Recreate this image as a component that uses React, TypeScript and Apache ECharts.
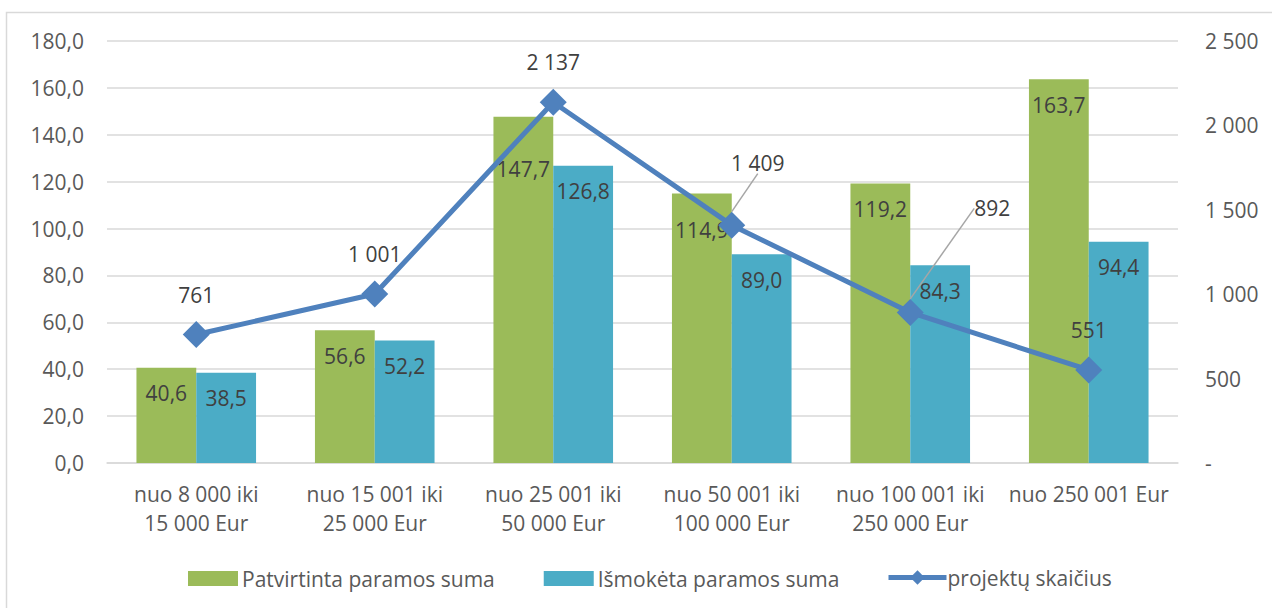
import React, { useEffect, useRef } from "react";
import * as echarts from "echarts";

const categories = [
  "nuo 8 000 iki\n15 000 Eur",
  "nuo 15 001 iki\n25 000 Eur",
  "nuo 25 001 iki\n50 000 Eur",
  "nuo 50 001 iki\n100 000 Eur",
  "nuo 100 001 iki\n250 000 Eur",
  "nuo 250 001 Eur",
];
const approved = [40.6, 56.6, 147.7, 114.9, 119.2, 163.7];
const paid = [38.5, 52.2, 126.8, 89.0, 84.3, 94.4];
const projects = [761, 1001, 2137, 1409, 892, 551];
const seriesNames = ["Patvirtinta paramos suma", "Išmokėta paramos suma", "projektų skaičius"];

const FONT = "'Open Sans', sans-serif";
const FS = 21;
const AXIS_COLOR = "#595959";
const LABEL_COLOR = "#404040";
const GREEN = "#9BBB59";
const BLUE = "#4BACC6";
const LINE = "#4F81BD";

const fmtComma = (v: number) => v.toFixed(1).replace(".", ",");
const fmtSpace = (v: number) =>
  v === 0 ? "-" : String(Math.round(v)).replace(/\B(?=(\d{3})+(?!\d))/g, " ");

export default function App() {
  const ref = useRef<HTMLDivElement>(null);
  useEffect(() => {
    if (!ref.current) return;
    const chart = echarts.init(ref.current, undefined, { renderer: "svg" });
    const approvedDistance: Record<number, number> = { 2: 42, 3: 26 };
    const lineLabelMoves: Record<number, [number, number]> = { 3: [26, -22], 4: [82, -64] };
    chart.setOption({
      animation: false,
      textStyle: { fontFamily: FONT },
      graphic: [
        {
          type: "rect",
          shape: { x: 6.5, y: 12.5, width: 1300, height: 700 },
          style: { fill: "none", stroke: "#d9d9d9", lineWidth: 1.5 },
          silent: true,
        },
      ],
      grid: { left: 107, right: 94, top: 41, bottom: 145 },
      legend: [
        {
          data: [seriesNames[0], seriesNames[1]],
          left: 183,
          top: 563,
          itemWidth: 50,
          itemHeight: 15,
          itemGap: 49,
          icon: "rect",
          textStyle: { color: AXIS_COLOR, fontSize: FS, fontFamily: FONT, padding: [0, 0, 0, -1] },
        },
        {
          data: [seriesNames[2]],
          left: 881,
          top: 562,
          itemWidth: 58,
          itemHeight: 18,
          lineStyle: { width: 5 },
          textStyle: { color: AXIS_COLOR, fontSize: FS, fontFamily: FONT, padding: [0, 0, 0, -4] },
        },
      ],
      xAxis: {
        type: "category",
        data: categories,
        axisTick: { show: false },
        axisLine: { lineStyle: { color: "#d9d9d9", width: 1.5 } },
        axisLabel: {
          color: AXIS_COLOR,
          fontSize: FS,
          lineHeight: 29,
          margin: 16,
          fontFamily: FONT,
          interval: 0,
        },
      },
      yAxis: [
        {
          type: "value",
          min: 0,
          max: 180,
          interval: 20,
          axisLine: { show: false },
          axisTick: { show: false },
          splitLine: { lineStyle: { color: "#d9d9d9", width: 1.5 } },
          axisLabel: {
            color: AXIS_COLOR,
            fontSize: FS,
            margin: 23,
            fontFamily: FONT,
            formatter: (v: number) => fmtComma(v),
          },
        },
        {
          type: "value",
          min: 0,
          max: 2500,
          interval: 500,
          axisLine: { show: false },
          axisTick: { show: false },
          splitLine: { show: false },
          axisLabel: {
            color: AXIS_COLOR,
            fontSize: FS,
            margin: 27,
            fontFamily: FONT,
            formatter: (v: number) => fmtSpace(v),
          },
        },
      ],
      series: [
        {
          name: seriesNames[0],
          type: "bar",
          yAxisIndex: 0,
          barGap: "0%",
          barCategoryGap: "33%",
          itemStyle: { color: GREEN },
          data: approved.map((v, i) => ({
            value: v,
            label: { distance: approvedDistance[i] ?? 15 },
          })),
          label: {
            show: true,
            position: "insideTop",
            distance: 15,
            color: LABEL_COLOR,
            fontSize: FS,
            fontFamily: FONT,
            formatter: (p: any) => fmtComma(p.value),
          },
        },
        {
          name: seriesNames[1],
          type: "bar",
          yAxisIndex: 0,
          itemStyle: { color: BLUE },
          data: paid,
          label: {
            show: true,
            position: "insideTop",
            distance: 15,
            color: LABEL_COLOR,
            fontSize: FS,
            fontFamily: FONT,
            formatter: (p: any) => fmtComma(p.value),
          },
        },
        {
          name: seriesNames[2],
          type: "line",
          yAxisIndex: 1,
          symbol: "diamond",
          symbolSize: 27,
          itemStyle: { color: LINE },
          lineStyle: { color: LINE, width: 5 },
          data: projects.map((v, i) => ({
            value: v,
            labelLine: { show: lineLabelMoves[i] !== undefined },
          })),
          label: {
            show: true,
            position: "top",
            distance: 16,
            color: LABEL_COLOR,
            fontSize: FS,
            fontFamily: FONT,
            formatter: (p: any) => fmtSpace(p.value),
          },
          labelLine: {
            show: false,
            lineStyle: { color: "#a6a6a6", width: 1.5 },
          },
          labelLayout: (params: any) => {
            const m = lineLabelMoves[params.dataIndex];
            return m ? { dx: m[0], dy: m[1] } : {};
          },
          z: 5,
        },
      ],
    });
    return () => chart.dispose();
  }, []);
  return (
    <div
      ref={ref}
      style={{ position: "absolute", left: 0, top: 0, width: 1272, height: 608, background: "#fff" }}
    />
  );
}
